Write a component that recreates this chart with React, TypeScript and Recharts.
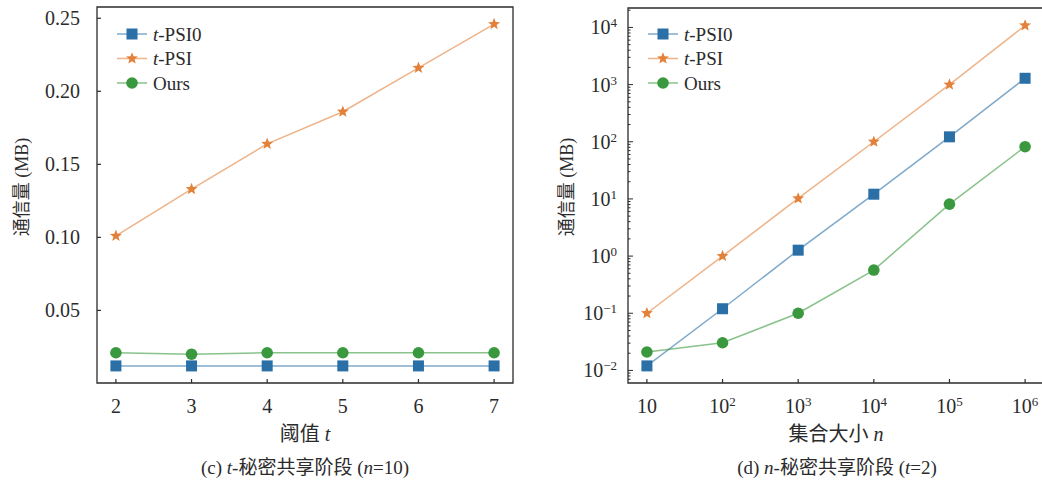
import React from 'react';
import { LineChart, Line, XAxis, YAxis, ReferenceArea, Legend } from 'recharts';

const SERIF = '"Liberation Serif", "Times New Roman", "Noto Sans CJK SC", serif';
const INK = '#2b2b2b';

// (c) t-secret sharing stage, n = 10
const thresholds = [2, 3, 4, 5, 6, 7];
const tPsi0ByT = [0.012, 0.012, 0.012, 0.012, 0.012, 0.012];
const tPsiByT = [0.101, 0.133, 0.164, 0.186, 0.216, 0.246];
const oursByT = [0.021, 0.02, 0.021, 0.021, 0.021, 0.021];
const linearTicks = [0.05, 0.1, 0.15, 0.2, 0.25];

// (d) n-secret sharing stage, t = 2
const setSizes = [10, 100, 1000, 10000, 100000, 1000000];
const tPsi0ByN = [0.012, 0.12, 1.27, 12.1, 122, 1290];
const tPsiByN = [0.1, 1.0, 10.2, 100, 1000, 10800];
const oursByN = [0.021, 0.0305, 0.1, 0.57, 8.1, 82];

const seriesKeys = ['tPsi0', 'tPsi', 'ours'];
const seriesNames = ['t-PSI0', 't-PSI', 'Ours'];
const seriesColors = ['#2a6fa6', '#e3813a', '#3a993e'];
const seriesMarkers = ['square', 'star', 'circle'];

const leftData = thresholds.map((t, i) => ({ x: t, tPsi0: tPsi0ByT[i], tPsi: tPsiByT[i], ours: oursByT[i] }));
const rightData = setSizes.map((n, i) => ({ x: n, tPsi0: tPsi0ByN[i], tPsi: tPsiByN[i], ours: oursByN[i] }));

const leftXDomain = [1.75, 7.25];
const leftYDomain = [0.0003, 0.2577];
const rightXDomain = [Math.pow(10, 0.75), Math.pow(10, 6.25)];
const rightYDomain = [Math.pow(10, -2.22), Math.pow(10, 4.34)];

// major + minor ticks for the log axis
const logTicks: number[] = [];
for (let d = -3; d <= 4; d++) {
  for (let m = 1; m <= 9; m++) {
    const v = m * Math.pow(10, d);
    if (v >= rightYDomain[0] && v <= rightYDomain[1]) logTicks.push(v);
  }
}

const Marker = ({ cx, cy, kind, color }: any) => {
  if (cx == null || cy == null) return null;
  if (kind === 'square') return <rect x={cx - 5.5} y={cy - 5.5} width={11} height={11} fill={color} />;
  if (kind === 'circle') return <circle cx={cx} cy={cy} r={5.8} fill={color} />;
  const pts = [];
  for (let i = 0; i < 10; i++) {
    const r = i % 2 ? 2.7 : 6.3;
    const a = -Math.PI / 2 + (i * Math.PI) / 5;
    pts.push(`${cx + r * Math.cos(a)},${cy + r * Math.sin(a)}`);
  }
  return <polygon points={pts.join(' ')} fill={color} />;
};

const SeriesName = ({ name }: { name: string }) =>
  name.startsWith('t-') ? (
    <>
      <tspan fontStyle="italic">t</tspan>
      {name.slice(1)}
    </>
  ) : (
    <>{name}</>
  );

const LegendBox = () => (
  <svg width={130} height={80} style={{ display: 'block', overflow: 'visible' }}>
    {seriesKeys.map((k, i) => {
      const cy = 14 + i * 24.5;
      return (
        <g key={k}>
          <line x1={7} x2={37} y1={cy} y2={cy} stroke={seriesColors[i]} strokeOpacity={0.6} strokeWidth={1.5} />
          <Marker cx={22} cy={cy} kind={seriesMarkers[i]} color={seriesColors[i]} />
          <text x={43} y={cy + 6.5} fontSize={19} fontFamily={SERIF} fill={INK}>
            <SeriesName name={seriesNames[i]} />
          </text>
        </g>
      );
    })}
  </svg>
);

const Pow10 = ({ x, y, exp, anchor, plainTen }: any) => (
  <text x={x} y={y} textAnchor={anchor} fontSize={20} fontFamily={SERIF} fill={INK}>
    10
    {plainTen && exp === 1 ? null : (
      <tspan fontSize={13} dy={-7}>
        {exp < 0 ? `\u2212${-exp}` : exp}
      </tspan>
    )}
  </text>
);

const LinearXTick = ({ x, y, payload }: any) => (
  <g>
    <line x1={x} x2={x} y1={y} y2={y - 4} stroke={INK} strokeWidth={1.2} />
    <text x={x} y={y + 30} textAnchor="middle" fontSize={20} fontFamily={SERIF} fill={INK}>
      {payload.value}
    </text>
  </g>
);

const LinearYTick = ({ x, y, payload }: any) => (
  <g>
    <line x1={x} x2={x + 4} y1={y} y2={y} stroke={INK} strokeWidth={1.2} />
    <text x={x - 17} y={y + 7} textAnchor="end" fontSize={20} fontFamily={SERIF} fill={INK}>
      {payload.value.toFixed(2)}
    </text>
  </g>
);

const LogXTick = ({ x, y, payload }: any) => {
  const exp = Math.round(Math.log10(payload.value));
  return (
    <g>
      <line x1={x} x2={x} y1={y} y2={y - 4} stroke={INK} strokeWidth={1.2} />
      <Pow10 x={x} y={y + 30} exp={exp} anchor="middle" plainTen />
    </g>
  );
};

const LogYTick = ({ x, y, payload }: any) => {
  const lg = Math.log10(payload.value);
  const exp = Math.round(lg);
  const major = Math.abs(lg - exp) < 1e-6;
  return (
    <g>
      <line x1={x} x2={x + (major ? 5 : 2.5)} y1={y} y2={y} stroke={INK} strokeWidth={1} />
      {major ? <Pow10 x={x - 11} y={y + 7} exp={exp} anchor="end" /> : null}
    </g>
  );
};

const YTitle = ({ cx }: { cx: number }) => (
  <text
    x={cx}
    y={187}
    transform={`rotate(-90, ${cx}, 187)`}
    textAnchor="middle"
    dominantBaseline="central"
    fontSize={18}
    fontFamily={SERIF}
    fill={INK}
  >
    通信量 (MB)
  </text>
);

const seriesLines = () =>
  seriesKeys.map((k, i) => (
    <Line
      key={k}
      dataKey={k}
      stroke={seriesColors[i]}
      strokeOpacity={0.6}
      strokeWidth={1.5}
      isAnimationActive={false}
      activeDot={false}
      dot={(p: any) => <Marker key={`${k}-${p.index}`} cx={p.cx} cy={p.cy} kind={seriesMarkers[i]} color={seriesColors[i]} />}
    />
  ));

export default function App() {
  return (
    <div style={{ position: 'absolute', left: 0, top: 0, width: 1042, height: 484, overflow: 'hidden', background: '#fff' }}>
      <div style={{ position: 'absolute', left: 0, top: 0 }}>
        <LineChart width={520} height={484} data={leftData} margin={{ top: 7, right: 7, left: 0, bottom: 0 }}>
          <XAxis
            dataKey="x"
            type="number"
            domain={leftXDomain}
            ticks={thresholds}
            interval={0}
            allowDataOverflow
            axisLine={false}
            tickLine={false}
            tickSize={0}
            tickMargin={0}
            height={101}
            tick={<LinearXTick />}
            label={() => (
              <g>
                <text x={305} y={441} textAnchor="middle" fontSize={20} fontFamily={SERIF} fill={INK}>
                  阈值 <tspan fontStyle="italic">t</tspan>
                </text>
                <text x={305} y={474} textAnchor="middle" fontSize={19} fontFamily={SERIF} fill={INK}>
                  (c) <tspan fontStyle="italic">t</tspan>-秘密共享阶段 (<tspan fontStyle="italic">n</tspan>=10)
                </text>
              </g>
            )}
          />
          <YAxis
            type="number"
            domain={leftYDomain}
            ticks={linearTicks}
            interval={0}
            allowDataOverflow
            axisLine={false}
            tickLine={false}
            tickSize={0}
            tickMargin={0}
            width={97}
            tick={<LinearYTick />}
            label={() => <YTitle cx={22} />}
          />
          <ReferenceArea
            x1={leftXDomain[0]}
            x2={leftXDomain[1]}
            y1={leftYDomain[0]}
            y2={leftYDomain[1]}
            fill="none"
            stroke={INK}
            strokeWidth={1.3}
            ifOverflow="visible"
          />
          <Legend
            layout="vertical"
            align="center"
            verticalAlign="middle"
            wrapperStyle={{ left: 110, top: 20, width: 130, height: 80 }}
            content={() => <LegendBox />}
          />
          {seriesLines()}
        </LineChart>
      </div>
      <div style={{ position: 'absolute', left: 520, top: 0 }}>
        <LineChart width={526} height={484} data={rightData} margin={{ top: 8, right: 2, left: 0, bottom: 0 }}>
          <XAxis
            dataKey="x"
            type="number"
            scale="log"
            domain={rightXDomain}
            ticks={setSizes}
            interval={0}
            allowDataOverflow
            axisLine={false}
            tickLine={false}
            tickSize={0}
            tickMargin={0}
            height={101}
            tick={<LogXTick />}
            label={() => (
              <g>
                <text x={316} y={441} textAnchor="middle" fontSize={20} fontFamily={SERIF} fill={INK}>
                  集合大小 <tspan fontStyle="italic">n</tspan>
                </text>
                <text x={317} y={474} textAnchor="middle" fontSize={19} fontFamily={SERIF} fill={INK}>
                  (d) <tspan fontStyle="italic">n</tspan>-秘密共享阶段 (<tspan fontStyle="italic">t</tspan>=2)
                </text>
              </g>
            )}
          />
          <YAxis
            type="number"
            scale="log"
            domain={rightYDomain}
            ticks={logTicks}
            interval={0}
            allowDataOverflow
            axisLine={false}
            tickLine={false}
            tickSize={0}
            tickMargin={0}
            width={108}
            tick={<LogYTick />}
            label={() => <YTitle cx={47} />}
          />
          <ReferenceArea
            x1={rightXDomain[0]}
            x2={rightXDomain[1]}
            y1={rightYDomain[0]}
            y2={rightYDomain[1]}
            fill="none"
            stroke={INK}
            strokeWidth={1.3}
            ifOverflow="visible"
          />
          <Legend
            layout="vertical"
            align="center"
            verticalAlign="middle"
            wrapperStyle={{ left: 121, top: 20, width: 130, height: 80 }}
            content={() => <LegendBox />}
          />
          {seriesLines()}
        </LineChart>
      </div>
    </div>
  );
}
